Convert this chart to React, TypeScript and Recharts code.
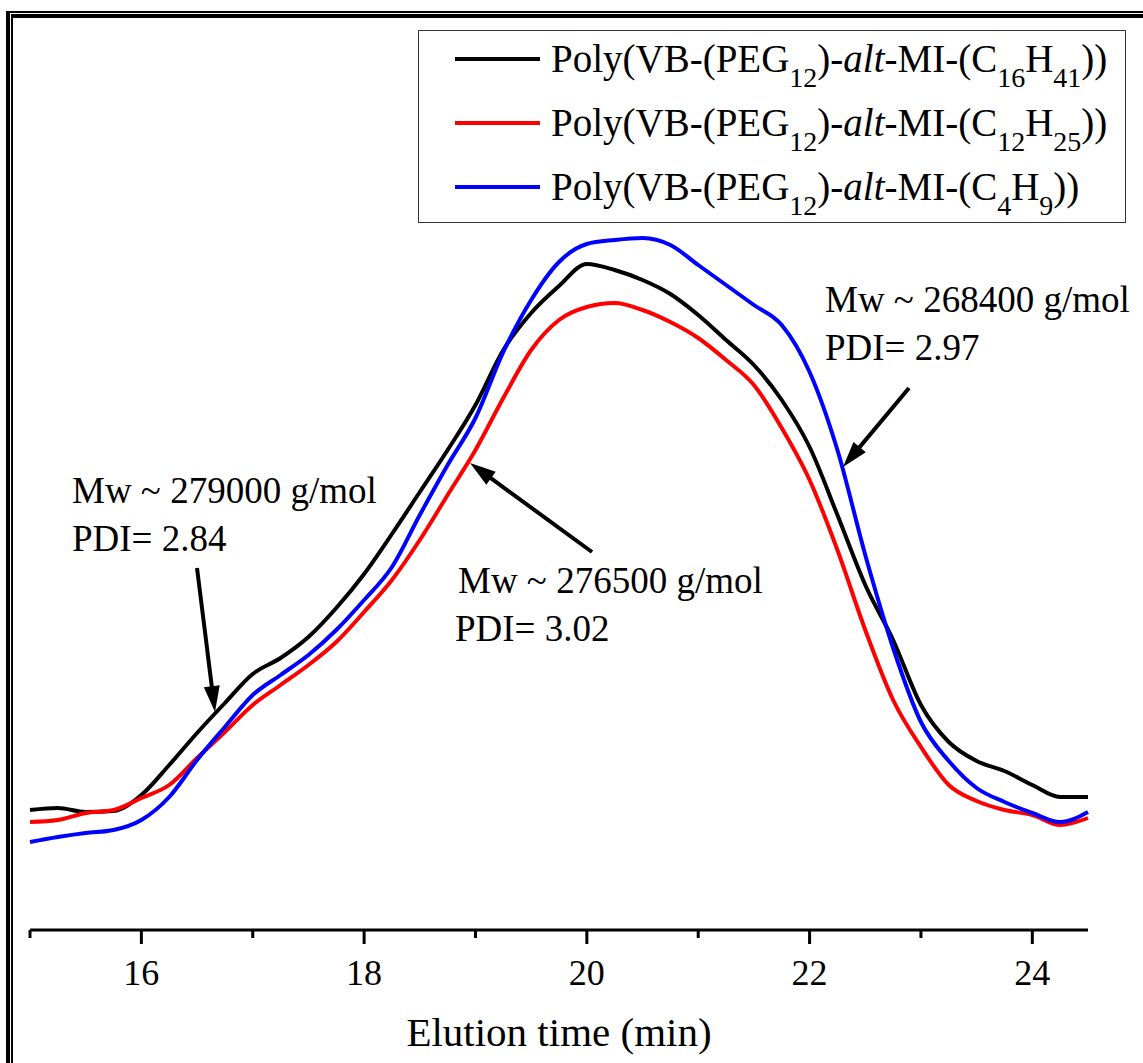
import { LineChart, Line, XAxis, YAxis, Legend } from "recharts";

// elution time (min)
const times = [
  15, 15.25, 15.5, 15.75, 16, 16.25, 16.5, 16.75, 17, 17.25, 17.5, 17.75, 18,
  18.25, 18.5, 18.75, 19, 19.25, 19.5, 19.75, 20, 20.25, 20.5, 20.75, 21,
  21.25, 21.5, 21.75, 22, 22.25, 22.5, 22.75, 23, 23.25, 23.5, 23.75, 24,
  24.25, 24.5,
];

// detector signal (a.u.)
const c16h41 = [
  12.0, 12.2, 11.8, 11.9, 13.5, 16.5, 19.7, 22.7, 25.6, 27.2, 29.3, 32.2, 35.6,
  39.6, 43.8, 48.0, 52.5, 58.0, 61.7, 64.4, 66.6, 66.0, 65.0, 63.6, 61.5,
  59.0, 56.5, 53.0, 48.3, 41.5, 34.5, 29.0, 22.5, 18.8, 16.9, 15.9, 14.5,
  13.3, 13.3,
];
const c12h25 = [
  10.8, 11.0, 11.7, 12.0, 13.2, 14.5, 17.2, 19.8, 22.5, 24.5, 26.5, 28.8, 31.8,
  35.0, 39.0, 43.5, 48.0, 53.2, 58.0, 61.0, 62.3, 62.7, 62.0, 60.8, 59.2,
  57.0, 54.5, 50.2, 45.0, 38.0, 30.0, 23.0, 18.3, 14.5, 12.9, 12.0, 11.5,
  10.5, 11.2,
];
const c4h9 = [
  8.8, 9.3, 9.7, 10.0, 11.0, 13.3, 17.0, 20.3, 23.5, 25.5, 27.5, 30.0, 33.0,
  36.3, 41.5, 46.5, 51.2, 57.8, 63.0, 66.8, 68.6, 69.0, 69.2, 68.5, 66.5,
  64.5, 62.5, 60.5, 55.8, 48.0, 37.5, 28.2, 20.8, 16.9, 14.2, 12.8, 11.7,
  10.8, 11.8,
];

const xTicks = [15, 16, 17, 18, 19, 20, 21, 22, 23, 24];

const series = [
  { key: "c16", color: "#000000", values: c16h41, sub: ["16", "41"] },
  { key: "c12", color: "#FF0000", values: c12h25, sub: ["12", "25"] },
  { key: "c4", color: "#0000FF", values: c4h9, sub: ["4", "9"] },
];

const annotations = [
  { x: 72, y: 503, mw: "279000", pdi: "2.84", from: [197, 568], to: [215, 712] },
  { x: 458, y: 593, mw: "276500", pdi: "3.02", px: 455, from: [592, 552], to: [470, 463] },
  { x: 825, y: 312, mw: "268400", pdi: "2.97", from: [909, 388], to: [843, 467] },
];

const data = times.map((t, i) => ({
  t,
  c16: c16h41[i],
  c12: c12h25[i],
  c4: c4h9[i],
}));

const FONT = '"Liberation Serif", "Times New Roman", serif';

function AxisTick(props: any) {
  const { x, y, payload } = props;
  const major = payload.value % 2 === 0;
  return (
    <g>
      <line x1={x} x2={x} y1={y} y2={y + (major ? 14 : 8)} stroke="#000" strokeWidth={3} />
      {major && (
        <text x={x} y={y + 55} textAnchor="middle" fontSize={36} fontFamily={FONT} fill="#000">
          {payload.value}
        </text>
      )}
    </g>
  );
}

const subStyle = { fontSize: 28, verticalAlign: "-15px", lineHeight: 0 };

function LegendBox() {
  return (
    <div
      style={{
        width: 708,
        height: 193,
        boxSizing: "border-box",
        border: "1.5px solid #333",
        background: "#fff",
        fontFamily: FONT,
      }}
    >
      <div style={{ marginTop: -4 }}>
        {series.map((s) => (
          <div key={s.key} style={{ height: 64, display: "flex", alignItems: "center" }}>
            <span style={{ width: 85, height: 4, background: s.color, marginLeft: 36, marginRight: 11 }} />
            <span style={{ fontSize: 39, lineHeight: "40px", color: "#000", whiteSpace: "nowrap" }}>
              Poly(VB-(PEG<span style={subStyle}>12</span>)-<i>alt</i>-MI-(C
              <span style={subStyle}>{s.sub[0]}</span>H<span style={subStyle}>{s.sub[1]}</span>))
            </span>
          </div>
        ))}
      </div>
    </div>
  );
}

function Arrow({ from, to }: { from: number[]; to: number[] }) {
  const dx = to[0] - from[0];
  const dy = to[1] - from[1];
  const len = Math.hypot(dx, dy);
  const ux = dx / len;
  const uy = dy / len;
  const hl = 26;
  const hw = 8;
  const bx = to[0] - ux * hl;
  const by = to[1] - uy * hl;
  const pts = `${to[0]},${to[1]} ${bx - uy * hw},${by + ux * hw} ${bx + uy * hw},${by - ux * hw}`;
  return (
    <g>
      <line x1={from[0]} y1={from[1]} x2={bx + ux * 4} y2={by + uy * 4} stroke="#000" strokeWidth={4} />
      <polygon points={pts} fill="#000" />
    </g>
  );
}

export default function App() {
  return (
    <div style={{ position: "relative", width: 1143, height: 1063, background: "#fff", overflow: "hidden" }}>
      <style>{"body{margin:0}"}</style>
      <LineChart
        width={1143}
        height={1063}
        data={data}
        margin={{ top: 20, right: 55, bottom: 33, left: 30 }}
      >
        <XAxis
          dataKey="t"
          type="number"
          domain={[15, 24.5]}
          ticks={xTicks}
          interval={0}
          height={100}
          tickSize={0}
          tickMargin={0}
          tickLine={false}
          tick={<AxisTick />}
          axisLine={{ stroke: "#000", strokeWidth: 3 }}
          label={({ viewBox }: any) => (
            <text
              x={viewBox.x + viewBox.width / 2}
              y={viewBox.y + 116}
              textAnchor="middle"
              fontSize={41}
              fontFamily={FONT}
              fill="#000"
            >
              Elution time (min)
            </text>
          )}
        />
        <YAxis hide type="number" domain={[0, 91]} />
        <Legend
          layout="vertical"
          align="center"
          verticalAlign="middle"
          content={() => <LegendBox />}
          wrapperStyle={{ position: "absolute", left: 418, top: 30, width: 708, height: 193 }}
        />
        {series.map((s) => (
          <Line
            key={s.key}
            dataKey={s.key}
            type="monotone"
            stroke={s.color}
            strokeWidth={4}
            dot={false}
            activeDot={false}
            isAnimationActive={false}
          />
        ))}
      </LineChart>

      <svg
        width={1143}
        height={1063}
        style={{ position: "absolute", left: 0, top: 0, pointerEvents: "none" }}
      >
        {annotations.map((a) => (
          <g key={a.mw} fontFamily={FONT} fontSize={37} fill="#000">
            <text x={a.x} y={a.y}>Mw ~ {a.mw} g/mol</text>
            <text x={a.px ?? a.x} y={a.y + 48}>PDI= {a.pdi}</text>
            <Arrow from={a.from} to={a.to} />
          </g>
        ))}
        {/* double frame */}
        <rect x={6} y={11} width={1200} height={2} fill="#000" />
        <rect x={6} y={11} width={4} height={1100} fill="#000" />
        <rect x={11} y={14} width={1200} height={4} fill="#000" />
        <rect x={11} y={14} width={2} height={1100} fill="#000" />
      </svg>
    </div>
  );
}
